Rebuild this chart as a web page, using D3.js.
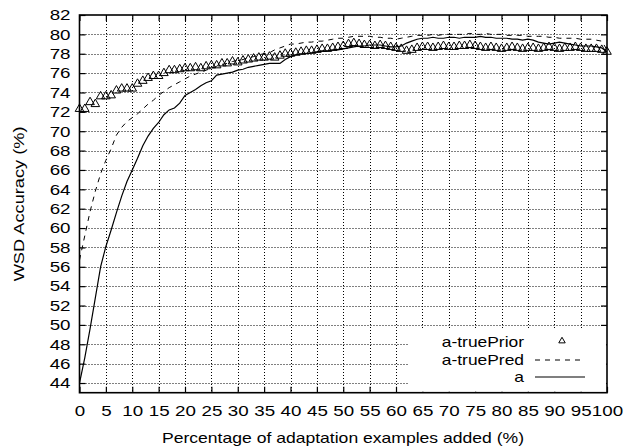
<!DOCTYPE html>
<html><head><meta charset="utf-8">
<script src="https://cdn.jsdelivr.net/npm/d3@7/dist/d3.min.js"></script>
<style>body{margin:0;background:#fff}svg{display:block}text{font-family:"Liberation Sans",Arial,sans-serif}</style>
</head><body>
<script>
const xTicks = d3.range(0, 101, 5);
const yTicks = d3.range(44, 83, 2);
const seriesNames = ["a-truePrior", "a-truePred", "a"];
const xLabel = "Percentage of adaptation examples added (%)";
const yLabel = "WSD Accuracy (%)";

const truePrior = [72.3,72.3,73.0,72.8,73.6,73.6,73.7,74.2,74.4,74.4,
74.4,74.9,75.2,75.5,75.7,75.7,76.0,76.3,76.3,76.4,
76.5,76.5,76.6,76.5,76.7,76.8,76.8,77.0,77.0,77.2,
77.1,77.3,77.4,77.5,77.6,77.6,77.7,77.6,77.8,78.0,
78.0,78.1,78.2,78.3,78.3,78.4,78.5,78.5,78.6,78.7,
78.8,79.0,79.1,79.0,78.9,78.9,78.8,78.9,78.8,78.7,
78.6,78.5,78.3,78.4,78.6,78.7,78.7,78.6,78.7,78.8,
78.7,78.7,78.8,78.8,78.9,78.8,78.7,78.6,78.7,78.6,
78.5,78.6,78.7,78.6,78.5,78.6,78.6,78.5,78.6,78.7,
78.6,78.5,78.6,78.6,78.7,78.6,78.5,78.5,78.5,78.4,78.2];

const truePred = [56.7,59.2,61.7,63.8,65.6,67.0,68.2,69.6,70.4,71.0,
71.4,71.8,72.3,72.8,73.2,73.7,74.1,74.5,74.8,75.1,
75.4,75.7,75.9,76.1,76.3,76.5,76.7,76.9,77.0,77.2,
77.3,77.4,77.6,77.7,77.9,78.0,78.1,78.4,78.6,78.8,
79.0,79.0,79.1,79.2,79.2,79.3,79.3,79.4,79.5,79.6,
79.6,79.7,79.8,79.8,79.8,79.8,79.7,79.7,79.6,79.6,
79.5,79.6,79.7,79.8,79.9,79.9,79.9,80.0,79.9,80.0,
80.0,80.0,80.0,80.0,80.1,80.0,80.0,80.1,80.0,80.0,
80.0,79.9,79.9,79.9,79.9,79.8,79.8,79.8,79.8,79.7,
79.7,79.6,79.6,79.6,79.6,79.5,79.5,79.5,79.4,79.3,78.4];

const aVals = [44.0,46.6,49.6,52.8,56.0,58.1,59.8,61.6,63.3,64.8,
66.0,67.2,68.5,69.5,70.3,70.9,71.7,72.2,72.4,72.9,
73.7,74.0,74.3,74.7,75.0,75.2,75.8,75.9,76.0,76.1,
76.3,76.4,76.6,76.7,76.8,76.9,77.0,77.0,77.0,77.4,
77.7,77.9,78.0,78.0,78.1,78.2,78.3,78.3,78.4,78.4,
78.5,78.6,78.7,78.8,78.8,78.9,78.9,78.9,78.8,78.7,
78.7,78.8,79.1,79.3,79.5,79.6,79.6,79.7,79.6,79.6,
79.7,79.7,79.6,79.7,79.7,79.7,79.8,79.7,79.7,79.6,
79.6,79.6,79.5,79.5,79.4,79.5,79.4,79.2,79.1,79.0,
79.1,79.2,79.1,79.0,78.9,78.8,78.8,78.8,78.7,78.6,78.2];

const W = 626, H = 448;
const L = 79.5, R = 607, T = 15, B = 392.7;
const FS = 15;
const x = d3.scaleLinear().domain([0, 100]).range([L, R]);
const y = d3.scaleLinear().domain([43, 82]).range([B, T]);

const svg = d3.select("body").append("svg").attr("width", W).attr("height", H);

function stretch(sel, k) {
  sel.each(function () {
    const len = this.getComputedTextLength();
    d3.select(this).attr("textLength", len * k).attr("lengthAdjust", "spacingAndGlyphs");
  });
}
function fitTo(sel, w) {
  sel.attr("textLength", w).attr("lengthAdjust", "spacingAndGlyphs");
}

// grid
const grid = svg.append("g").attr("stroke", "#000").attr("stroke-width", 1).attr("stroke-dasharray", "1,2").attr("fill", "none");
yTicks.filter(v => v < 82).forEach(v => {
  grid.append("line").attr("x1", L).attr("x2", R).attr("y1", Math.round(y(v)) + 0.5).attr("y2", Math.round(y(v)) + 0.5);
});
xTicks.filter(v => v > 0 && v < 100).forEach(v => {
  grid.append("line").attr("x1", Math.round(x(v)) + 0.5).attr("x2", Math.round(x(v)) + 0.5).attr("y1", T).attr("y2", B);
});

// axes (ticks inward)
const ax = svg.append("g");
ax.append("g").attr("transform", `translate(0,${B})`)
  .call(d3.axisBottom(x).tickValues(xTicks).tickSize(-6).tickPadding(13).tickFormat(d3.format("d")));
ax.append("g").attr("transform", `translate(0,${T})`)
  .call(d3.axisTop(x).tickValues(xTicks).tickSize(-6).tickFormat(""));
ax.append("g").attr("transform", `translate(${L},0)`)
  .call(d3.axisLeft(y).tickValues(yTicks).tickSize(-6).tickPadding(9).tickFormat(d3.format("d")));
ax.append("g").attr("transform", `translate(${R},0)`)
  .call(d3.axisRight(y).tickValues(yTicks).tickSize(-6).tickFormat(""));
ax.selectAll(".domain").remove();
ax.selectAll(".tick line").attr("stroke", "#000").attr("stroke-width", 1.2);
ax.selectAll(".tick text").attr("font-size", FS).attr("fill", "#000").attr("font-family", '"Liberation Sans",Arial,sans-serif');
stretch(ax.selectAll(".tick text"), 1.25);

// series
const idx = d3.range(truePrior.length);
svg.append("defs").append("clipPath").attr("id", "c").append("rect")
  .attr("x", L).attr("y", T).attr("width", R - L).attr("height", B - T);

const lineGen = arr => d3.line().x(i => x(i)).y(i => y(arr[i]))(idx);
svg.append("path").attr("d", lineGen(truePred)).attr("fill", "none").attr("stroke", "#000")
  .attr("stroke-width", 1).attr("stroke-dasharray", "5,5").attr("clip-path", "url(#c)");
svg.append("path").attr("d", lineGen(aVals)).attr("fill", "none").attr("stroke", "#000")
  .attr("stroke-width", 1.2).attr("clip-path", "url(#c)");

const tri = d3.symbol().type(d3.symbolTriangle).size(32);
svg.append("g").selectAll("path").data(idx).join("path")
  .attr("d", tri).attr("transform", i => `translate(${x(i)},${y(truePrior[i])})`)
  .attr("fill", "none").attr("stroke", "#000").attr("stroke-width", 1);

// legend
const lg = svg.append("g");
lg.append("rect").attr("x", 408).attr("y", 328).attr("width", R - 408 - 1).attr("height", B - 328 - 1).attr("fill", "#fff");
const lx = 524, ly = [347, 365, 382];
seriesNames.forEach((n, k) => {
  const t = lg.append("text").attr("x", lx).attr("y", ly[k]).attr("text-anchor", "end").attr("font-size", FS).text(n);
  stretch(t, 1.16);
});
lg.append("path").attr("d", d3.symbol().type(d3.symbolTriangle).size(18))
  .attr("transform", `translate(562,341)`).attr("fill", "none").attr("stroke", "#000");
lg.append("line").attr("x1", 535).attr("x2", 585).attr("y1", 360).attr("y2", 360)
  .attr("stroke", "#000").attr("stroke-dasharray", "5,5");
lg.append("line").attr("x1", 535).attr("x2", 585).attr("y1", 377).attr("y2", 377)
  .attr("stroke", "#000").attr("stroke-width", 1.2);

// frame
svg.append("rect").attr("x", L).attr("y", T).attr("width", R - L).attr("height", B - T)
  .attr("fill", "none").attr("stroke", "#000").attr("stroke-width", 1.6);

// axis titles
fitTo(svg.append("text").attr("x", 343).attr("y", 443).attr("text-anchor", "middle").attr("font-size", FS).text(xLabel), 362);
fitTo(svg.append("text").attr("transform", `translate(24,${(T + B) / 2}) rotate(-90)`).attr("text-anchor", "middle").attr("font-size", FS).text(yLabel), 155);
</script>
</body></html>
